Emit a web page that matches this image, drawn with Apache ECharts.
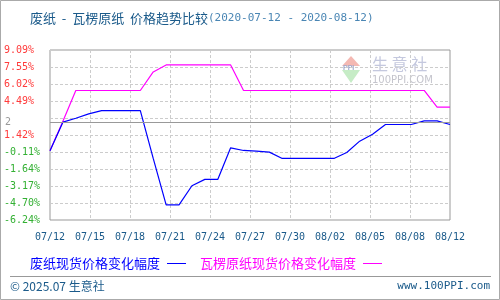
<!DOCTYPE html>
<html><head><meta charset="utf-8">
<script src="https://cdn.jsdelivr.net/npm/echarts@6/dist/echarts.min.js"></script>
<style>html,body{margin:0;padding:0;background:#fff}#c{width:500px;height:300px}</style>
</head><body><div id="c"></div>
<script>
var dates = ['07/12','07/13','07/14','07/15','07/16','07/17','07/18','07/19','07/20','07/21','07/22','07/23','07/24','07/25','07/26','07/27','07/28','07/29','07/30','07/31','08/01','08/02','08/03','08/04','08/05','08/06','08/07','08/08','08/09','08/10','08/11','08/12'];
var wastePaper = [0,2.58,2.94,3.33,3.63,3.63,3.63,3.63,-0.69,-4.87,-4.87,-3.15,-2.58,-2.58,0.27,0.03,-0.03,-0.12,-0.69,-0.69,-0.69,-0.69,-0.69,-0.15,0.87,1.50,2.37,2.37,2.37,2.70,2.70,2.37];
var corrugated = [0,2.67,5.44,5.44,5.44,5.44,5.44,5.44,7.11,7.74,7.74,7.74,7.74,7.74,7.74,5.44,5.44,5.44,5.44,5.44,5.44,5.44,5.44,5.44,5.44,5.44,5.44,5.44,5.44,5.44,3.93,3.93];
var yTickLabels = ['-6.24%','-4.70%','-3.17%','-1.64%','-0.11%','1.42%','','4.49%','6.02%','7.55%','9.09%'];
var refLineValue = 2.58;
var refLineLabel = '2';
var seriesNames = ['废纸现货价格变化幅度','瓦楞原纸现货价格变化幅度'];

function pairs(arr){ return arr.map(function(v,i){ return [i,v]; }); }
var mono = 'DejaVu Sans Mono';
var cjk = '"Noto Sans CJK SC", sans-serif';
var chart = echarts.init(document.getElementById('c'), null, {renderer:'canvas'});
chart.setOption({
  animation:false,
  backgroundColor:'#fff',
  title:{left:25, top:7, text:'{a|废纸  -  瓦楞原纸  价格趋势比较}{b|(2020-07-12 - 2020-08-12)}',
    textStyle:{fontWeight:'normal', rich:{
      a:{fontSize:13, color:'#1a5a8a', fontFamily:cjk, fontWeight:'normal'},
      b:{fontSize:11, color:'#4a86b4', fontFamily:mono, fontWeight:'normal'}
    }}},
  legend:{left:25, top:252, align:'right', itemGap:14, itemWidth:19, itemHeight:1, icon:'rect',
    textStyle:{fontSize:13, fontFamily:cjk, padding:[0,2,0,0]},
    data:[{name:seriesNames[0], textStyle:{color:'#0000ff'}},{name:seriesNames[1], textStyle:{color:'#ff00ff'}}]},
  grid:{left:50, right:50, top:50, bottom:80, show:true, borderColor:'#999', borderWidth:1},
  xAxis:{type:'value', min:0, max:dates.length-1, interval:3.1,
    axisLine:{show:false}, axisTick:{show:false},
    splitLine:{show:true, lineStyle:{color:'#ccc', type:[3,2]}},
    axisLabel:{margin:12, fontSize:10, fontFamily:mono, color:'#1a5a8a', showMinLabel:true, showMaxLabel:true,
      formatter:function(v){ return dates[Math.floor(v+1e-6)] || ''; }}},
  yAxis:{type:'value', min:-6.24, max:9.09, interval:1.533,
    axisLine:{show:false}, axisTick:{show:false},
    splitLine:{show:true, lineStyle:{color:'#ccc', type:[3,2]}},
    axisLabel:{margin:46, align:'left', fontSize:10, fontFamily:mono,
      formatter:function(v,i){ return yTickLabels[i]; },
      color:function(v){ return v < 0 ? '#33b033' : '#ff3a3a'; }}},
  graphic:[
    {type:'rect', shape:{x:0.5,y:0.5,width:499,height:299}, style:{fill:null, stroke:'#aaa', lineWidth:1}, z:-1},
    {type:'line', shape:{x1:10,y1:276.5,x2:491,y2:276.5}, style:{stroke:'#999', lineWidth:1}},
    {type:'text', left:10, top:280, style:{text:'© 2025.07 生意社', fill:'#1a5a8a', font:'12px "Noto Sans CJK SC", sans-serif'}},
    {type:'text', right:10, top:281, style:{text:'www.100PPI.com', fill:'#1a5a8a', font:'11px "DejaVu Sans Mono"'}},
    {type:'polygon', shape:{points:[[351,56],[342,66],[360,66]]}, style:{fill:'#f4b8b2'}, z:0},
    {type:'polygon', shape:{points:[[342,70],[360,70],[351,83]]}, style:{fill:'#c6ecc6'}, z:0},
    {type:'text', x:343, y:65, style:{text:'PPI', fill:'#9fa8cc', font:'bold 7px sans-serif'}, z:0},
    {type:'text', x:372, y:56, style:{text:'生 意 社', fill:'#c4c8de', font:'16px "Noto Sans CJK SC"'}, z:0},
    {type:'text', x:372, y:75, style:{text:'100PPI.COM', fill:'#c4c4cc', font:'10px "DejaVu Sans"'}, z:0}
  ],
  series:[
    {name:seriesNames[0], type:'line', data:pairs(wastePaper), symbol:'none', color:'#0000ff', lineStyle:{width:1.2, color:'#0000ff'}, z:3,
      markLine:{silent:true, symbol:'none', data:[{yAxis:refLineValue}],
        lineStyle:{color:'#999', type:'solid', width:1},
        label:{position:'start', distance:39, formatter:refLineLabel, color:'#999', fontSize:10, fontFamily:mono}}},
    {name:seriesNames[1], type:'line', data:pairs(corrugated), symbol:'none', color:'#ff00ff', lineStyle:{width:1.2, color:'#ff00ff'}, z:2}
  ]
});
</script></body></html>
